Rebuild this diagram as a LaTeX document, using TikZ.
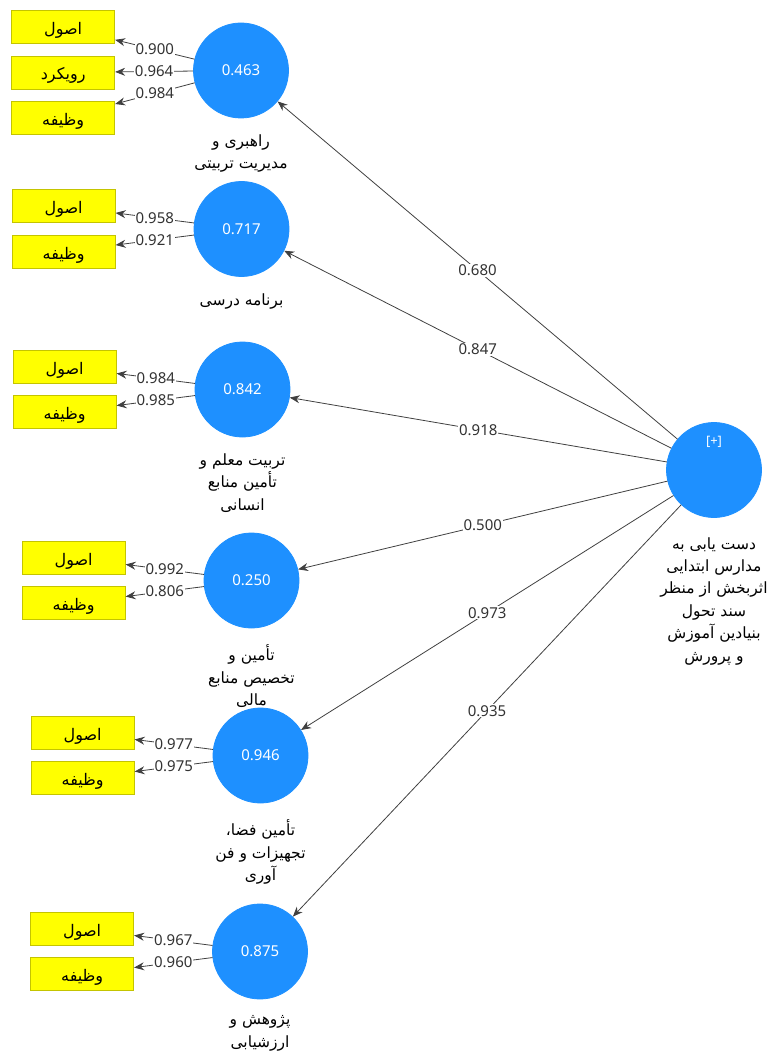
\documentclass[tikz,border=0pt]{standalone}
\usepackage{fontspec}
\setmainfont{Noto Sans}
\newfontfamily\arabicfont[Script=Arabic]{DejaVu Sans}
\TeXXeTstate=1
\usetikzlibrary{positioning, arrows.meta}
\definecolor{plsblue}{HTML}{1E90FF}
\definecolor{plsyellow}{HTML}{FFFF00}
\definecolor{plsedge}{HTML}{C4C400}
\definecolor{plsline}{HTML}{404040}
\tikzset{
    construct/.style={circle, fill=plsblue, draw=plsblue, minimum size=95pt, inner sep=0pt,
        text=white, font=\fontsize{15}{18}\selectfont},
    indicator/.style={rectangle, fill=plsyellow, draw=plsedge, minimum width=103pt,
        minimum height=33pt, inner sep=0pt, text height=15pt, text depth=0pt,
        font=\fontsize{16}{18}\selectfont\arabicfont},
    coef/.style={fill=white, inner sep=1pt, text=black!80, font=\fontsize{15}{18}\selectfont},
    every label/.append style={align=center, label distance=16pt, inner sep=0pt,
        font=\fontsize{15.5}{22.4}\selectfont\arabicfont},
}

\begin{document}
\begin{tikzpicture}[x=1pt, y=-1pt]
    \tikzset{
      ->,
      >={Stealth[length=10pt, width=8pt]},
      every path/.append style={draw=plsline, line width=0.8pt}
    }
    \useasboundingbox[draw=none] (0,0) rectangle (771,1059);

    \node[construct, label={[label distance=19pt]below:{\beginR دست یابی به\endR\\\beginR مدارس ابتدایی\endR\\\beginR اثربخش از منظر\endR\\\beginR سند تحول\endR\\\beginR بنیادین آموزش\endR\\\beginR و پرورش\endR}}] (pr) at (714,470) {};
    \node[text=white, font=\fontsize{13}{15}\selectfont, below=10pt of pr.north] (plus) {[+]};

    \node[construct, label=below:{\beginR راهبری و\endR\\\beginR مدیریت تربیتی\endR}] (c1) at (241,70.5) {0.463};
    \node[indicator, left=78pt of c1, yshift=-2pt] (c1b) {\beginR رویکرد\endR};
    \node[indicator, above=11.5pt of c1b] (c1a) {\beginR اصول\endR};
    \node[indicator, below=11.5pt of c1b] (c1c) {\beginR وظیفه\endR};

    \node[construct, label=below:{\beginR برنامه درسی\endR}] (c2) at (241.5,229) {0.717};
    \node[indicator, above left=5.75pt and 78pt of c2.west] (c2a) {\beginR اصول\endR};
    \node[indicator, below left=5.75pt and 78pt of c2.west] (c2b) {\beginR وظیفه\endR};

    \node[construct, label=below:{\beginR تربیت معلم و\endR\\\beginR تأمین منابع\endR\\\beginR انسانی\endR}] (c3) at (242.5,389.5) {0.842};
    \node[indicator, above left=5.75pt and 78pt of c3.west] (c3a) {\beginR اصول\endR};
    \node[indicator, below left=5.75pt and 78pt of c3.west] (c3b) {\beginR وظیفه\endR};

    \node[construct, label=below:{\beginR تأمین و\endR\\\beginR تخصیص منابع\endR\\\beginR مالی\endR}] (c4) at (251.5,580.5) {0.250};
    \node[indicator, above left=5.75pt and 78pt of c4.west] (c4a) {\beginR اصول\endR};
    \node[indicator, below left=5.75pt and 78pt of c4.west] (c4b) {\beginR وظیفه\endR};

    \node[construct, label=below:{\beginR تأمین فضا،\endR\\\beginR تجهیزات و فن\endR\\\beginR آوری\endR}] (c5) at (260.5,755.5) {0.946};
    \node[indicator, above left=5.75pt and 78pt of c5.west] (c5a) {\beginR اصول\endR};
    \node[indicator, below left=5.75pt and 78pt of c5.west] (c5b) {\beginR وظیفه\endR};

    \node[construct, label=below:{\beginR پژوهش و\endR\\\beginR ارزشیابی\endR}] (c6) at (260,951.5) {0.875};
    \node[indicator, above left=5.75pt and 78pt of c6.west] (c6a) {\beginR اصول\endR};
    \node[indicator, below left=5.75pt and 78pt of c6.west] (c6b) {\beginR وظیفه\endR};

    \draw (pr) -- node[coef] {0.680} (c1);
    \draw (pr) -- node[coef] {0.847} (c2);
    \draw (pr) -- node[coef] {0.918} (c3);
    \draw (pr) -- node[coef] {0.500} (c4);
    \draw (pr) -- node[coef] {0.973} (c5);
    \draw (pr) -- node[coef] {0.935} (c6);

    \draw (c1) -- node[coef] {0.900} (c1a);
    \draw (c1) -- node[coef] {0.964} (c1b);
    \draw (c1) -- node[coef] {0.984} (c1c);
    \draw (c2) -- node[coef] {0.958} (c2a);
    \draw (c2) -- node[coef] {0.921} (c2b);
    \draw (c3) -- node[coef] {0.984} (c3a);
    \draw (c3) -- node[coef] {0.985} (c3b);
    \draw (c4) -- node[coef] {0.992} (c4a);
    \draw (c4) -- node[coef] {0.806} (c4b);
    \draw (c5) -- node[coef] {0.977} (c5a);
    \draw (c5) -- node[coef] {0.975} (c5b);
    \draw (c6) -- node[coef] {0.967} (c6a);
    \draw (c6) -- node[coef] {0.960} (c6b);
\end{tikzpicture}
\end{document}
